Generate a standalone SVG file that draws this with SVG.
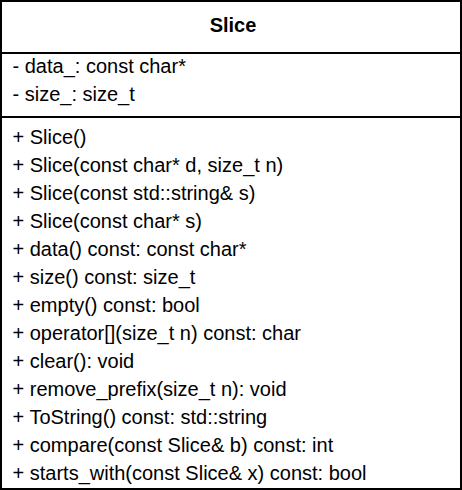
<svg xmlns="http://www.w3.org/2000/svg" width="462" height="490" viewBox="0 0 462 490">
<style>
.box{fill:#fff;stroke:#000;stroke-width:2}
.sep{stroke:#000;stroke-width:2}
.t{font-family:"Liberation Sans",Arial,sans-serif;font-size:20px;fill:#000}
.title{font-weight:bold;text-anchor:middle}
</style>
<rect width="462" height="490" fill="#fff"/>
<g id="Slice">
<rect class="box" x="1" y="1" width="460" height="488"/>
<text class="t title" x="233" y="32">Slice</text>
<line class="sep" x1="1" y1="53" x2="461" y2="53"/>
<text class="t" x="12.5" y="72.5">- data_: const char*</text>
<text class="t" x="12.5" y="100.5">- size_: size_t</text>
<line class="sep" x1="1" y1="117" x2="461" y2="117"/>
<text class="t" x="12.5" y="144">+ Slice()</text>
<text class="t" x="12.5" y="172">+ Slice(const char* d, size_t n)</text>
<text class="t" x="12.5" y="200">+ Slice(const std::string&amp; s)</text>
<text class="t" x="12.5" y="228">+ Slice(const char* s)</text>
<text class="t" x="12.5" y="256">+ data() const: const char*</text>
<text class="t" x="12.5" y="284">+ size() const: size_t</text>
<text class="t" x="12.5" y="312">+ empty() const: bool</text>
<text class="t" x="12.5" y="340">+ operator[](size_t n) const: char</text>
<text class="t" x="12.5" y="368">+ clear(): void</text>
<text class="t" x="12.5" y="396">+ remove_prefix(size_t n): void</text>
<text class="t" x="12.5" y="424">+ ToString() const: std::string</text>
<text class="t" x="12.5" y="452">+ compare(const Slice&amp; b) const: int</text>
<text class="t" x="12.5" y="480">+ starts_with(const Slice&amp; x) const: bool</text>
</g>
<g id="connectors"/>
</svg>
